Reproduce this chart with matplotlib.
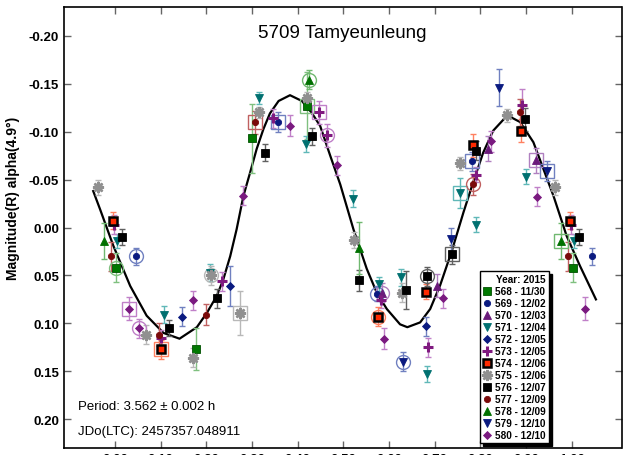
import matplotlib
matplotlib.use("Agg")
import matplotlib.pyplot as plt
import numpy as np

plt.rcParams['font.family'] = ['Liberation Sans', 'DejaVu Sans']

# fitted Fourier curve
fit_phase = [-0.048, -0.033, -0.004, 0.033, 0.069, 0.106, 0.141, 0.179, 0.201, 0.223, 0.237, 0.252,
             0.266, 0.281, 0.296, 0.310, 0.325, 0.339, 0.358, 0.383, 0.409, 0.430, 0.449, 0.471,
             0.493, 0.522, 0.551, 0.573, 0.595, 0.624, 0.640, 0.668, 0.690, 0.712, 0.737, 0.763,
             0.784, 0.806, 0.828, 0.859, 0.887, 0.916, 0.938, 0.960, 0.989, 1.018, 1.053]
fit_mag = [-0.038, -0.019, 0.019, 0.061, 0.092, 0.110, 0.116, 0.104, 0.089, 0.071, 0.054, 0.030,
           0.002, -0.033, -0.058, -0.082, -0.103, -0.119, -0.132, -0.138, -0.132, -0.120, -0.106, -0.075,
           -0.045, 0.002, 0.043, 0.068, 0.085, 0.101, 0.104, 0.099, 0.085, 0.060, 0.025, -0.016,
           -0.047, -0.078, -0.101, -0.117, -0.110, -0.089, -0.061, -0.033, 0.009, 0.040, 0.075]

# sessions: phase, magnitude, error, highlight ('o' ring, 's' box)
p568 = [0.002, 0.177, 0.299, 0.421]
m568 = [0.042, 0.127, -0.093, -0.127]
e568 = [0.015, 0.022, 0.036, 0.035]
h568 = ['o', '', '', 's']

p569 = [0.045, 0.356, 0.574, 0.782]
m569 = [0.030, -0.110, 0.069, -0.069]
e569 = [0.009, 0.010, 0.008, 0.010]
h569 = ['o', 's', 'o', 's']

p570 = [0.585, 0.704, 0.816, 0.921]
m570 = [0.068, 0.061, -0.082, -0.070]
e570 = [0.010, 0.012, 0.013, 0.013]
h570 = ['o', '', '', 's']

p571 = [0.004, 0.107, 0.208, 0.316, 0.418, 0.522, 0.577, 0.626, 0.682, 0.756, 0.791, 0.900]
m571 = [0.014, 0.091, 0.047, -0.135, -0.087, -0.030, 0.059, 0.052, 0.153, -0.036, -0.003, -0.053]
e571 = [0.007, 0.009, 0.009, 0.006, 0.008, 0.009, 0.007, 0.009, 0.008, 0.016, 0.008, 0.008]
h571 = ['', '', '', '', '', '', '', '', '', 's', '', '']

p572 = [0.147, 0.252, 0.680]
m572 = [0.093, 0.061, 0.103]
e572 = [0.010, 0.021, 0.010]
h572 = ['', '', '']

p573 = [0.101, 0.234, 0.345, 0.447, 0.465, 0.582, 0.686, 0.790, 0.892, 0.998]
m573 = [0.115, 0.056, -0.114, -0.120, -0.096, 0.076, 0.125, -0.055, -0.128, -0.003]
e573 = [0.008, 0.010, 0.010, 0.012, 0.012, 0.008, 0.010, 0.008, 0.016, 0.010]
h573 = ['', '', '', 's', 'o', '', '', '', '', '']

p574 = [0.100, 0.576, 0.681, 0.784, 0.888, 0.996]
m574 = [0.127, 0.093, 0.067, -0.086, -0.101, -0.007]
e574 = [0.010, 0.010, 0.008, 0.012, 0.012, 0.009]
h574 = ['s', 'o', '', '', '', '']

p575 = [0.068, 0.170, 0.210, 0.274, 0.316, 0.421, 0.524, 0.628, 0.755, 0.859, 0.963]
m575 = [0.112, 0.136, 0.050, 0.089, -0.120, -0.135, 0.013, 0.068, -0.067, -0.117, -0.042]
e575 = [0.010, 0.010, 0.010, 0.023, 0.006, 0.006, 0.008, 0.010, 0.007, 0.007, 0.008]
h575 = ['', '', 'o', 's', '', '', '', '', '', '', '']

p576 = [0.015, 0.119, 0.223, 0.328, 0.431, 0.534, 0.637, 0.683, 0.738, 0.790, 0.898]
m576 = [0.010, 0.105, 0.074, -0.078, -0.095, 0.055, 0.065, 0.051, 0.028, -0.080, -0.113]
e576 = [0.008, 0.008, 0.010, 0.009, 0.009, 0.011, 0.020, 0.010, 0.010, 0.010, 0.012]
h576 = ['', '', '', '', '', '', '', 'o', 's', '', '']

p577 = [0.096, 0.199, 0.306, 0.784, 0.887, 0.991]
m577 = [0.112, 0.091, -0.110, -0.045, -0.120, 0.030]
e577 = [0.012, 0.011, 0.012, 0.011, 0.014, 0.015]
h577 = ['', '', 's', 'o', '', '']

p578 = [0.425, 0.535, 0.976]
m578 = [-0.154, 0.021, 0.014]
e578 = [0.010, 0.027, 0.019]
h578 = ['o', '', 's']

p579 = [0.631, 0.735, 0.841, 0.945]
m579 = [0.140, 0.012, -0.146, -0.059]
e579 = [0.010, 0.012, 0.019, 0.010]
h579 = ['o', '', '', 's']

p580 = [0.030, 0.053, 0.170, 0.280, 0.382, 0.485, 0.589, 0.719, 0.823, 0.925]
m580 = [0.085, 0.105, 0.076, -0.033, -0.106, -0.065, 0.116, 0.074, -0.090, -0.032]
e580 = [0.012, 0.010, 0.010, 0.010, 0.011, 0.010, 0.011, 0.010, 0.011, 0.010]
h580 = ['s', 'o', '', '', '', '', '', '', '', '']

labels = ["568 - 11/30", "569 - 12/02", "570 - 12/03", "571 - 12/04", "572 - 12/05",
          "573 - 12/05", "574 - 12/06", "575 - 12/06", "576 - 12/07", "577 - 12/09",
          "578 - 12/09", "579 - 12/10", "580 - 12/10"]
data = [(p568, m568, e568, h568), (p569, m569, e569, h569), (p570, m570, e570, h570),
        (p571, m571, e571, h571), (p572, m572, e572, h572), (p573, m573, e573, h573),
        (p574, m574, e574, h574), (p575, m575, e575, h575), (p576, m576, e576, h576),
        (p577, m577, e577, h577), (p578, m578, e578, h578), (p579, m579, e579, h579),
        (p580, m580, e580, h580)]

# marker, size, face, edge, error colour, edge width
styles = [
    ('s', 5.5, '#007800', '#005000', '#7fc07f', 0.6),
    ('o', 4.5, '#0a1a80', '#0a1a80', '#7080c0', 0.6),
    ('^', 6, '#6a1a7a', '#6a1a7a', '#b080c0', 0.6),
    ('v', 6, '#007070', '#007070', '#60b8b8', 0.6),
    ('D', 3.8, '#0a1a80', '#0a1a80', '#7080c0', 0.6),
    ('+', 7, '#801a80', '#801a80', '#c080c8', 2.2),
    ('s', 6, '#ff2a00', '#000000', '#ff8060', 1.8),
    ((8, 2, 0), 8, '#909090', '#909090', '#b8b8b8', 1.8),
    ('s', 6, '#000000', '#000000', '#606060', 0.6),
    ('o', 4.5, '#7a0a0a', '#7a0a0a', '#c06060', 0.6),
    ('^', 6, '#007000', '#007000', '#70b870', 0.6),
    ('v', 6, '#0a1a80', '#0a1a80', '#7080c0', 0.6),
    ('D', 4.2, '#7a1a80', '#7a1a80', '#c080c8', 0.6),
]

fig = plt.figure(figsize=(6.25, 4.56), dpi=100)
ax = fig.add_axes([0.1024, 0.0154, 0.892, 0.967])

ax.plot(fit_phase, fit_mag, color='black', lw=1.6, zorder=2)

for lab, (p, m, e, h), (mk, ms, fc, ec, erc, mew) in zip(labels, data, styles):
    p = np.array(p)
    m = np.array(m)
    e = np.array(e)
    lo = p < 0.05
    hi = p > 0.95
    x = np.concatenate([p, p[lo] + 1, p[hi] - 1])
    y = np.concatenate([m, m[lo], m[hi]])
    err = np.concatenate([e, e[lo], e[hi]])
    ax.errorbar(x, y, yerr=err, fmt='none', ecolor=erc, elinewidth=1, capsize=2.5,
                capthick=1, zorder=3)
    for hm in ['o', 's']:
        sel = np.array([k == hm for k in h])
        if sel.any():
            ax.plot(p[sel], m[sel], ls='none', marker=hm, ms=10 if hm == 'o' else 9.5,
                    mfc='none', mec=erc, mew=1, zorder=4)
    ax.plot(x, y, ls='none', marker=mk, ms=ms, mfc=fc, mec=ec, mew=mew, zorder=5, label=lab)

ax.set_xlim(-0.112, 1.109)
ax.set_ylim(0.23, -0.23)
xt = np.arange(0, 1.01, 0.1)
yt = np.arange(-0.20, 0.201, 0.05)
ax.set_xticks(xt)
ax.set_xticklabels(['%.2f' % v for v in xt], fontweight='bold')
ax.set_yticks(yt)
ax.set_yticklabels(['%.2f' % (v + 0.0) for v in np.round(yt, 2)], fontweight='bold')
ax.tick_params(direction='in', top=True, right=True, length=5, width=1, color='#666666',
               labelsize=9.5)
for s in ax.spines.values():
    s.set_linewidth(1.2)

ax.set_ylabel('Magnitude(R) alpha(4.9°)', fontsize=10, fontweight='bold')
ax.yaxis.set_label_coords(-0.079, 0.569)

ax.text(0.5, 0.943, '5709 Tamyeunleung', transform=ax.transAxes, ha='center', va='center',
        fontsize=13.5)
ax.text(0.025, 0.095, 'Period: 3.562 ± 0.002 h', transform=ax.transAxes, ha='left',
        va='center', fontsize=9.5)
ax.text(0.025, 0.038, 'JDo(LTC): 2457357.048911', transform=ax.transAxes, ha='left',
        va='center', fontsize=9.5)

leg = ax.legend(loc='upper right', bbox_to_anchor=(0.870, 0.401), borderaxespad=0,
                title='Year: 2015', title_fontproperties={'weight': 'bold', 'size': 7.2},
                prop={'weight': 'bold', 'size': 7.2}, numpoints=1, handlelength=0.8,
                handletextpad=0.4, labelspacing=0.2, borderpad=0.3, fancybox=False,
                framealpha=1, edgecolor='black',
                shadow={'color': 'black', 'alpha': 1})
leg._legend_box.align = 'right'
leg.get_frame().set_linewidth(1)
leg.set_zorder(10)

fig.savefig('out.png', dpi=100)
